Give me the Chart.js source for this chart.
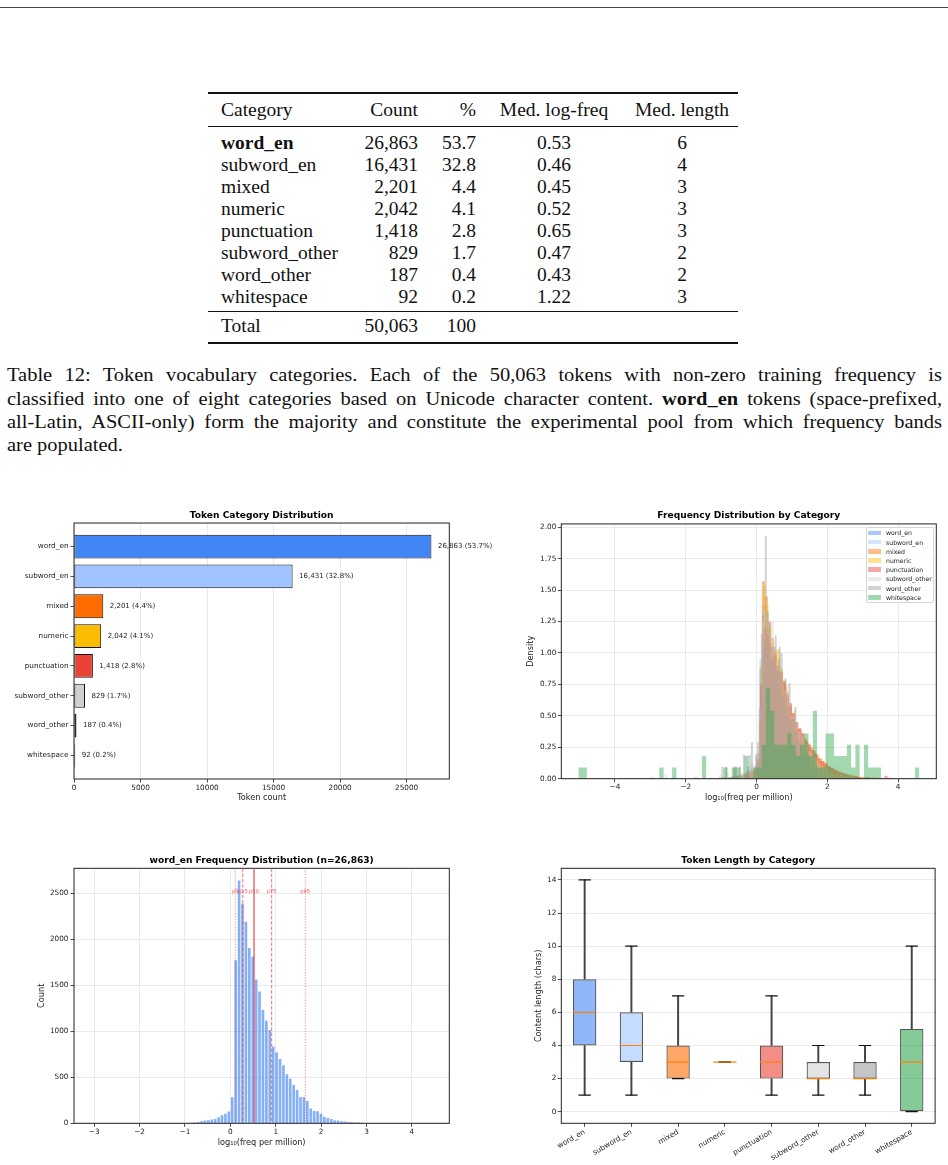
<!DOCTYPE html>
<html><head><meta charset="utf-8">
<script src="https://cdn.jsdelivr.net/npm/chart.js@4.4.1/dist/chart.umd.min.js"></script>
<style>
body{margin:0;background:#fff;width:948px;height:1165px;position:relative;overflow:hidden;}
.serif{font-family:'Liberation Serif',serif;color:#111;}
.hrule{position:absolute;left:208px;width:530px;background:#111;}
.trow{position:absolute;left:208px;width:530px;height:22px;line-height:22px;font-size:19.5px;}
.cell{position:absolute;top:0;white-space:nowrap;}
.cap{position:absolute;left:7px;height:23.3px;font-size:19.5px;line-height:23.3px;white-space:nowrap;transform-origin:0 0;}
canvas{position:absolute;}
#legend{position:absolute;left:865.7px;top:527.3px;width:66.6px;height:73.4px;border:1px solid #d6d6d6;border-radius:2px;background:rgba(255,255,255,0.8);font-family:'DejaVu Sans';font-size:6.2px;color:#222;}
.lrow{position:absolute;left:0;height:9.2px;width:66px;}
.lsw{position:absolute;left:1.6px;top:2.2px;width:12.7px;height:4.7px;}
.ltx{position:absolute;left:19.3px;top:0;line-height:9.2px;white-space:nowrap;}
</style></head>
<body>
<div style="position:absolute;left:0;top:6.5px;width:948px;height:1px;background:#444"></div>
<div id="table" class="serif"></div>
<div class="serif">
<div class="cap j" style="top:363.4px">Table 12: Token vocabulary categories. Each of the 50,063 tokens with non-zero training frequency is</div>
<div class="cap j" style="top:386.7px">classified into one of eight categories based on Unicode character content. <b>word_en</b> tokens (space-prefixed,</div>
<div class="cap j" style="top:410px">all-Latin, ASCII-only) form the majority and constitute the experimental pool from which frequency bands</div>
<div class="cap" style="top:433.3px">are populated.</div>
</div>
<canvas id="cA" width="520" height="310" style="left:0;top:500px"></canvas>
<canvas id="cB" width="474" height="310" style="left:474px;top:500px"></canvas>
<canvas id="cC" width="474" height="310" style="left:0;top:845px"></canvas>
<canvas id="cD" width="474" height="320" style="left:474px;top:845px"></canvas>
<div id="legend"></div>
<script>
// ---------------- data ----------------
const categories = ['word_en','subword_en','mixed','numeric','punctuation','subword_other','word_other','whitespace'];
const tokenCounts = [26863,16431,2201,2042,1418,829,187,92];
const tokenPercents = [53.7,32.8,4.4,4.1,2.8,1.7,0.4,0.2];
const medLogFreq = [0.53,0.46,0.45,0.52,0.65,0.47,0.43,1.22];
const medLength = [6,4,3,3,3,2,2,3];
const totalCount = 50063;
const totalPercent = 100;
const countTicksA = [0,5000,10000,15000,20000,25000];

// word_en histogram (bin start, bin width, counts)
const wordEnRange = [-3.07, 4.45];
const wordEnBinStart = -1.274;
const wordEnBinWidth = 0.0752;
const wordEnCounts = [1,1,2,3,4,6,10,15,22,30,33,40,47,65,87,105,127,283,1771,2639,2385,2189,1906,1811,1564,1433,1231,1114,1013,834,769,700,631,534,483,417,363,287,285,243,160,134,131,105,72,58,47,33,30,22,19,15,13,10,8,6,4,3,2,2,1,1];
const countTicksC = [0,500,1000,1500,2000,2500];
const pctNames = ['p5','p25','p50','p75','p95'];
const pctValues = [0.11,0.273,0.522,0.91,1.65];

// overlay density histograms per category
const freqRange = [-5.035, 4.595];
const freqBinStart = [-1.274,-1.28,-2.91,-3.02,-3.05,-2.95,-1.0,-5.035];
const freqBinWidth = [0.0752,0.08,0.085,0.08,0.09,0.07,0.056,0.1204];
const densWordEn = [0.0005,0.0005,0.001,0.0015,0.002,0.003,0.005,0.007,0.011,0.015,0.016,0.02,0.023,0.032,0.043,0.052,0.063,0.14,0.877,1.306,1.181,1.084,0.944,0.897,0.774,0.709,0.609,0.551,0.501,0.413,0.381,0.347,0.312,0.264,0.239,0.206,0.18,0.142,0.141,0.12,0.079,0.066,0.065,0.052,0.036,0.029,0.023,0.016,0.015,0.011,0.009,0.007,0.006,0.005,0.004,0.003,0.002,0.0015,0.001,0.001,0.0005,0.0005];
const densSubwordEn = [0.002,0.003,0.004,0.005,0.007,0.01,0.013,0.017,0.022,0.028,0.035,0.045,0.055,0.07,0.085,0.1,0.2,0.95,1.38,1.25,1.12,1.0,0.9,0.8,0.7,0.62,0.55,0.48,0.42,0.37,0.33,0.29,0.25,0.22,0.19,0.16,0.14,0.12,0.1,0.085,0.07,0.058,0.047,0.038,0.03,0.024,0.018,0.014,0.01,0.008,0.006,0.004,0.003,0.002];
const densMixed = [0.005,0,0,0,0.005,0,0,0,0,0.005,0,0,0,0,0.005,0,0,0,0.005,0,0.005,0.005,0.005,0.011,0.005,0.011,0.016,0.021,0.027,0.032,0.043,0.053,0.064,0.08,0.12,0.45,1.57,1.45,1.25,1.12,1.02,0.95,0.85,0.76,0.66,0.58,0.52,0.45,0.4,0.36,0.32,0.28,0.25,0.22,0.19,0.16,0.14,0.12,0.1,0.09,0.075,0.064,0.053,0.043,0.037,0.032,0.027,0.021,0.016,0.016,0.011,0.011,0.005,0.011,0.005,0.005,0,0.005,0,0.005];
const densNumeric = [0.006,0,0,0,0,0,0.006,0,0,0,0,0,0.006,0,0,0,0,0,0,0.006,0,0,0,0.006,0,0,0.006,0,0.006,0.006,0.012,0.012,0.018,0.025,0.03,0.04,0.05,0.07,0.15,0.9,1.54,1.38,1.2,1.08,1.0,1.03,0.88,0.78,0.7,0.6,0.52,0.45,0.4,0.35,0.3,0.27,0.23,0.2,0.17,0.14,0.12,0.1,0.085,0.07,0.06,0.05,0.04,0.03,0.025,0.02,0.015,0.012,0.01,0.006,0.006,0.006,0,0.006];
const densPunctuation = [0.008,0,0,0,0,0,0,0.008,0,0,0,0,0,0,0.008,0,0,0,0,0.008,0,0,0.008,0,0.008,0.008,0.008,0.016,0.016,0.023,0.03,0.04,0.05,0.07,0.16,0.75,1.2,1.15,1.05,0.98,0.9,0.85,0.78,0.68,0.6,0.52,0.45,0.4,0.36,0.3,0.27,0.23,0.2,0.16,0.14,0.12,0.1,0.085,0.07,0.055,0.047,0.04,0.03,0.023,0.02,0.016,0.012,0.008,0.012,0.008,0.008,0,0.008,0,0.023,0.008];
const densSubwordOther = [0.017,0,0,0,0,0.034,0,0,0,0,0,0,0,0,0,0,0,0.017,0.017,0,0,0,0,0,0,0,0,0.034,0.017,0,0.05,0,0.017,0.1,0.017,0.034,0.05,0.034,0.07,0.1,0.12,0.1,0.2,0.55,1.25,1.35,1.3,1.15,1.25,1.05,0.95,0.9,0.85,0.7,0.75,0.6,0.5,0.55,0.45,0.38,0.35,0.3,0.28,0.22,0.2,0.17,0.15,0.12,0.1,0.085,0.07,0.05,0.05,0.034,0.034,0.017,0.034,0.017,0.017,0,0.017];
const densWordOther = [0.095,0,0.095,0,0,0,0.095,0.095,0,0.095,0,0.19,0,0.095,0.19,0.29,0,0.19,0.29,0.57,1.15,1.05,1.93,1.33,1.24,0.95,1.05,1.14,0.86,1.05,1.0,0.67,0.8,0.57,0.76,0.48,0.48,0.57,0.38,0.29,0.38,0.19,0.29,0.19,0.19,0.095,0.19,0.095,0.095,0,0.095,0,0.095,0,0.095];
const densWhitespace = [0.09,0.09,0,0,0,0,0,0,0,0,0,0,0,0,0,0,0,0,0,0.09,0,0,0.09,0,0,0,0,0,0,0.18,0,0,0,0,0.09,0,0.09,0.09,0,0.18,0,0.09,0.09,0.27,0.72,0.54,0.27,0.27,0.27,0.36,0.27,0.18,0.27,0.36,0.18,0.54,0.09,0.09,0.36,0.36,0.18,0.18,0.18,0.27,0.09,0.27,0,0.27,0.09,0.09,0.09,0,0,0,0,0,0,0,0,0.09];
const freqDensities = [densWordEn,densSubwordEn,densMixed,densNumeric,densPunctuation,densSubwordOther,densWordOther,densWhitespace];

// token length box statistics
const lenQ1 = [4,3,2,3,2,2,2,0];
const lenMedian = [6,4,3,3,3,2,2,3];
const lenQ3 = [8,6,4,3,4,3,3,5];
const lenWhiskerLow = [1,1,2,3,1,1,1,0];
const lenWhiskerHigh = [14,10,7,3,7,4,4,10];

// ---------------- styles ----------------
const catColors = ['#4285f4','#a0c4ff','#ff6d00','#fbbc04','#ea4335','#d0d0d0','#9e9e9e','#34a853'];
function rgba(hex,a){const n=parseInt(hex.slice(1),16);return `rgba(${n>>16},${(n>>8)&255},${n&255},${a})`;}
const INK='#222', GRID='#e4e4e4';
const TICK={size:7.3}, LABEL={size:8.2}, TITLE={size:9.1,weight:'bold'};
const pctDash=[[1.2,1.6],[3.5,1.8],[],[3.5,1.8],[1.2,1.6]];
const pctWidth=[0.9,1.1,1.7,1.1,0.9];

// ---------------- table ----------------
(function(){
  const t=document.getElementById('table');
  function rule(top,h){const d=document.createElement('div');d.className='hrule';d.style.top=top+'px';d.style.height=h+'px';t.appendChild(d);}
  function row(center,cells,bold){
    const r=document.createElement('div');r.className='trow';r.style.top=(center-11)+'px';
    const pos=[['left','13px'],['right','320px'],['right','262px'],['c','346px'],['c','474px']];
    cells.forEach((txt,i)=>{const c=document.createElement('div');c.className='cell';c.textContent=txt;
      if(pos[i][0]==='c'){c.style.left=pos[i][1];c.style.transform='translateX(-50%)';}else c.style[pos[i][0]]=pos[i][1];
      if(bold&&i===0)c.style.fontWeight='bold';r.appendChild(c);});
    t.appendChild(r);
  }
  rule(92.3,1.5);
  row(110,['Category','Count','%','Med. log-freq','Med. length']);
  rule(125.5,0.9);
  categories.forEach((c,i)=>row(142.5+22*i,[c,tokenCounts[i].toLocaleString('en-US'),tokenPercents[i].toFixed(1),medLogFreq[i].toFixed(2),String(medLength[i])],i===0));
  rule(310.6,0.9);
  row(326,['Total',totalCount.toLocaleString('en-US'),String(totalPercent),'','']);
  rule(342.3,1.5);
})();

// ---------------- caption justification ----------------
(function(){
  const target=935, maxScale=1.05;
  document.querySelectorAll('.cap').forEach(el=>{
    const w=el.getBoundingClientRect().width;
    if(el.classList.contains('j')){
      const f=Math.min(maxScale,target/w);
      const spaces=(el.textContent.match(/ /g)||[]).length;
      el.style.wordSpacing=((target/f-w)/spaces)+'px';
      el.style.transform=`scaleX(${f})`;
    } else {
      el.style.transform=`scaleX(${maxScale})`;
    }
  });
})();

// ---------------- legend (HTML) ----------------
(function(){
  const L=document.getElementById('legend');
  categories.forEach((c,i)=>{const r=document.createElement('div');r.className='lrow';r.style.top=(0.1+9.2*i)+'px';
    r.innerHTML=`<div class="lsw" style="background:${rgba(catColors[i],0.45)}"></div><div class="ltx">${c}</div>`;L.appendChild(r);});
})();

// ---------------- chart defaults / plugins ----------------
Chart.defaults.font.family="'DejaVu Sans', sans-serif";
Chart.defaults.color=INK;
Chart.defaults.animation=false;
Chart.defaults.responsive=false;
Chart.defaults.devicePixelRatio=1;
Chart.defaults.plugins.legend.display=false;
Chart.defaults.plugins.tooltip.enabled=false;
const fixW=w=>s=>{s.width=w;};
const fixH=h=>s=>{s.height=h;};
const useTicks=vals=>s=>{s.ticks=vals.map(v=>({value:v}));};
const framePlugin={id:'frame',afterDatasetsDraw(chart){const {ctx,chartArea:a}=chart;ctx.save();ctx.strokeStyle=INK;ctx.lineWidth=1;ctx.strokeRect(a.left,a.top,a.right-a.left,a.bottom-a.top);ctx.restore();}};
const fmtMinus=v=>v<0?'\u2212'+Math.abs(v):String(v);
function titleOpt(text,pt,pb){return {display:true,text,font:TITLE,color:'#000',fullSize:false,padding:{top:pt,bottom:pb}};}
const tickGrid={tickLength:3.5,tickColor:INK,tickWidth:0.8};

// ---------------- Chart A: category counts ----------------
const valueLabelPlugin={id:'vals',afterDatasetsDraw(chart){const {ctx}=chart;const xs=chart.scales.x,ys=chart.scales.y;ctx.save();ctx.font="7px 'DejaVu Sans'";ctx.fillStyle=INK;ctx.textBaseline='middle';ctx.textAlign='left';
  tokenCounts.forEach((v,i)=>ctx.fillText(`${v.toLocaleString('en-US')} (${tokenPercents[i].toFixed(1)}%)`,xs.getPixelForValue(v)+6.5,ys.getPixelForValue(i)));ctx.restore();}};
const barSpan=categories.length-1+0.8;
new Chart(document.getElementById('cA'),{
  type:'bar',
  data:{datasets:[{data:categories.map((c,i)=>({x:tokenCounts[i],y:i})),backgroundColor:catColors,borderColor:'#111',borderWidth:1,borderSkipped:false,barPercentage:0.8,categoryPercentage:1}]},
  options:{indexAxis:'y',layout:{padding:{left:0,right:70.7,top:0,bottom:0}},
    plugins:{title:titleOpt('Token Category Distribution',10.3,1.8)},
    scales:{
      y:{type:'linear',offset:false,reverse:true,min:-0.4-0.05*barSpan,max:categories.length-1+0.4+0.05*barSpan,afterFit:fixW(74),border:{display:false},
        afterBuildTicks:useTicks(categories.map((c,i)=>i)),
        grid:Object.assign({drawOnChartArea:false,offset:false},tickGrid),
        ticks:{autoSkip:false,font:TICK,padding:2,callback:v=>categories[v]}},
      x:{type:'linear',offset:false,min:0,max:Math.max(...tokenCounts)*1.05,afterFit:fixH(31),border:{display:false},
        afterBuildTicks:useTicks(countTicksA),
        grid:Object.assign({color:GRID,lineWidth:0.8},tickGrid),
        ticks:{autoSkip:false,font:TICK,padding:1,callback:v=>String(v)},
        title:{display:true,text:'Token count',font:LABEL,padding:{top:0,bottom:6.8}}}
    }},
  plugins:[framePlugin,valueLabelPlugin]
});

// ---------------- Chart B: overlay density ----------------
function histPoints(start,width,dens){const pts=dens.map((d,i)=>({x:start+i*width,y:d}));pts.push({x:start+dens.length*width,y:0});return pts;}
const fSpan=freqRange[1]-freqRange[0];
new Chart(document.getElementById('cB'),{
  type:'line',
  data:{datasets:categories.map((c,i)=>({label:c,data:histPoints(freqBinStart[i],freqBinWidth[i],freqDensities[i]),stepped:true,fill:'origin',
    backgroundColor:rgba(catColors[i],0.45),borderColor:'rgba(0,0,0,0)',borderWidth:0,pointRadius:0,order:categories.length-i}))},
  options:{layout:{padding:{left:0,right:11.7,top:0,bottom:0}},
    plugins:{title:titleOpt('Frequency Distribution by Category',10.5,2.5)},
    scales:{
      x:{type:'linear',min:freqRange[0]-0.05*fSpan,max:freqRange[1]+0.05*fSpan,afterFit:fixH(31.3),border:{display:false},
        grid:Object.assign({color:GRID,lineWidth:0.8},tickGrid),
        ticks:{stepSize:2,includeBounds:false,font:TICK,padding:1,callback:fmtMinus},
        title:{display:true,text:'log\u2081\u2080(freq per million)',font:LABEL,padding:{top:0,bottom:6.8}}},
      y:{type:'linear',min:0,max:Math.max(...freqDensities.map(a=>Math.max(...a)))*1.05,afterFit:fixW(87.3),border:{display:false},
        grid:Object.assign({color:GRID,lineWidth:0.8},tickGrid),
        ticks:{stepSize:0.25,includeBounds:false,font:TICK,padding:1.5,callback:v=>v.toFixed(2)},
        title:{display:true,text:'Density',font:LABEL,padding:{top:52.4,bottom:0}}}
    }},
  plugins:[framePlugin]
});

// ---------------- Chart C: word_en histogram ----------------
const pctPlugin={id:'pct',afterDatasetsDraw(chart){const {ctx,chartArea:a}=chart;const xs=chart.scales.x,ys=chart.scales.y;
  const ly=ys.getPixelForValue(Math.max(...wordEnCounts)*0.955);ctx.save();
  pctValues.forEach((v,i)=>{const px=xs.getPixelForValue(v);ctx.beginPath();ctx.setLineDash(pctDash[i]);ctx.lineWidth=pctWidth[i];ctx.strokeStyle='rgba(239,68,68,0.7)';ctx.moveTo(px,a.top);ctx.lineTo(px,a.bottom);ctx.stroke();});
  ctx.setLineDash([]);ctx.font="5.2px 'DejaVu Sans'";ctx.fillStyle='rgba(239,68,68,0.9)';ctx.textAlign='center';ctx.textBaseline='middle';
  pctValues.forEach((v,i)=>ctx.fillText(pctNames[i],xs.getPixelForValue(v),ly));ctx.restore();}};
const wSpan=wordEnRange[1]-wordEnRange[0];
new Chart(document.getElementById('cC'),{
  type:'bar',
  data:{datasets:[{data:wordEnCounts.map((n,i)=>({x:wordEnBinStart+(i+0.5)*wordEnBinWidth,y:n})),backgroundColor:'rgba(66,133,244,0.65)',borderWidth:0,barPercentage:0.78,categoryPercentage:1}]},
  options:{layout:{padding:{left:0,right:24.7,top:0,bottom:0}},
    plugins:{title:titleOpt('word_en Frequency Distribution (n=26,863)',10.2,2.2)},
    scales:{
      x:{type:'linear',offset:false,min:wordEnRange[0]-0.05*wSpan,max:wordEnRange[1]+0.05*wSpan,afterFit:fixH(31.7),border:{display:false},
        grid:Object.assign({color:GRID,lineWidth:0.8,offset:false},tickGrid),
        ticks:{stepSize:1,includeBounds:false,font:TICK,padding:1,callback:fmtMinus},
        title:{display:true,text:'log\u2081\u2080(freq per million)',font:LABEL,padding:{top:0,bottom:7.4}}},
      y:{type:'linear',min:0,max:Math.max(...wordEnCounts)*1.05,afterFit:fixW(74),border:{display:false},
        afterBuildTicks:useTicks(countTicksC),
        grid:Object.assign({color:GRID,lineWidth:0.8},tickGrid),
        ticks:{autoSkip:false,font:TICK,padding:2,callback:v=>String(v)},
        title:{display:true,text:'Count',font:LABEL,padding:{top:36.8,bottom:0}}}
    }},
  plugins:[framePlugin,pctPlugin]
});

// ---------------- Chart D: token length boxes ----------------
const lSpan=Math.max(...lenWhiskerHigh)-Math.min(...lenWhiskerLow);
new Chart(document.getElementById('cD'),{
  type:'bar',
  data:{labels:categories,datasets:[
    {type:'bar',data:categories.map((c,i)=>[lenWhiskerLow[i],lenQ1[i]]),backgroundColor:'#444',borderWidth:0,barThickness:1.3,grouped:false,order:4},
    {type:'bar',data:categories.map((c,i)=>[lenQ3[i],lenWhiskerHigh[i]]),backgroundColor:'#444',borderWidth:0,barThickness:1.3,grouped:false,order:4},
    {type:'bar',data:categories.map((c,i)=>[lenQ1[i],lenQ3[i]]),backgroundColor:catColors.map(h=>rgba(h,0.6)),borderColor:'#555',borderWidth:1.2,borderSkipped:false,barPercentage:0.5,categoryPercentage:1,grouped:false,order:3},
    {type:'line',data:lenWhiskerLow,showLine:false,pointStyle:'line',pointRadius:6.15,pointBorderColor:'#111',pointBorderWidth:1.2,order:2},
    {type:'line',data:lenWhiskerHigh,showLine:false,pointStyle:'line',pointRadius:6.15,pointBorderColor:'#111',pointBorderWidth:1.2,order:2},
    {type:'line',data:lenMedian,showLine:false,pointStyle:'line',pointRadius:11.7,pointBorderColor:'#ff7f0e',pointBorderWidth:1.2,order:1}
  ]},
  options:{layout:{padding:{left:0,right:11.7,top:0,bottom:0}},
    plugins:{title:titleOpt('Token Length by Category',10.2,2.2)},
    scales:{
      x:{type:'category',offset:true,afterFit:fixH(41.7),border:{display:false},
        grid:Object.assign({drawOnChartArea:false,offset:false},tickGrid),
        ticks:{font:TICK,minRotation:30,maxRotation:30,autoSkip:false,padding:1}},
      y:{type:'linear',min:Math.min(...lenWhiskerLow)-0.05*lSpan,max:Math.max(...lenWhiskerHigh)+0.05*lSpan,afterFit:fixW(87.3),border:{display:false},
        grid:Object.assign({color:GRID,lineWidth:0.8},tickGrid),
        ticks:{stepSize:2,includeBounds:false,font:TICK,padding:1.5,callback:v=>String(v)},
        title:{display:true,text:'Content length (chars)',font:LABEL,padding:{top:60.1,bottom:0}}}
    }},
  plugins:[framePlugin]
});
</script>
</body></html>
